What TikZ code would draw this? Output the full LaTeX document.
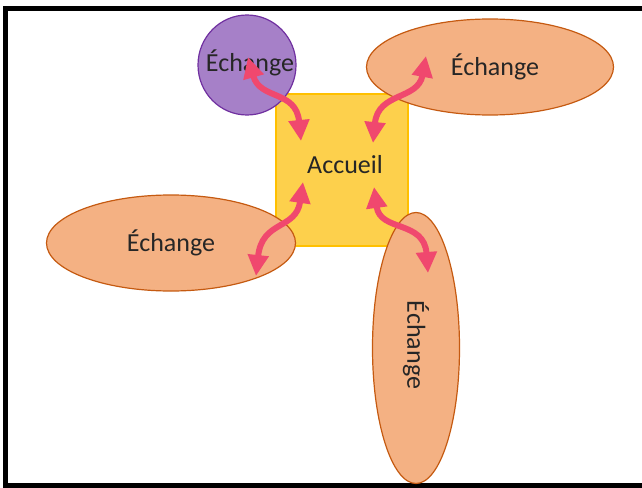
\documentclass[tikz,border=0pt]{standalone}
\usepackage{fontspec}
\setmainfont{Carlito}
\usetikzlibrary{arrows.meta,shapes.geometric}
\definecolor{peachfill}{RGB}{244,177,131}
\definecolor{peachline}{RGB}{197,90,17}
\definecolor{lilacfill}{RGB}{166,128,200}
\definecolor{lilacline}{RGB}{112,48,160}
\definecolor{goldfill}{RGB}{253,208,76}
\definecolor{goldline}{RGB}{255,192,0}
\definecolor{linkcolor}{RGB}{240,72,110}
\definecolor{txtcolor}{RGB}{38,38,38}
\tikzset{
  txtfont/.style={text=txtcolor, font=\fontsize{26}{31}\selectfont},
  echbox/.style={ellipse, draw=peachline, fill=peachfill, line width=1.2pt,
    inner sep=0pt, txtfont},
  echsmall/.style={ellipse, draw=lilacline, fill=lilacfill, line width=1.2pt,
    inner sep=0pt, txtfont},
  hubbox/.style={rectangle, draw=goldline, fill=goldfill, line width=1.2pt,
    inner sep=0pt, txtfont},
  linkln/.style={{Triangle[length=21pt,width=20pt]}-{Triangle[length=21pt,width=20pt]},
    line width=6pt, linkcolor},
  frameln/.style={line width=5pt, black},
}

\begin{document}
\begin{tikzpicture}[x=1pt, y=-1pt]
    \useasboundingbox (0,0) rectangle (642,487);
    % open frame (no right side)
    \draw[frameln] (645,9) -- (5.5,9) -- (5.5,485.5) -- (645,485.5);
    % central square
    \node[hubbox, minimum width=132pt, minimum height=152pt] (accueil)
      at (342,170) {};
    \node[txtfont] (accueiltxt) at (345,165) {Accueil};
    % the four exchanges
    \node[echsmall, minimum width=98pt, minimum height=100pt] (echA)
      at (247,65) {};
    \node[txtfont] (echAtxt) at (250,63) {Échange};
    \node[echbox, minimum width=247pt, minimum height=96pt] (echB)
      at (490,67) {\hspace*{10pt}Échange};
    \node[echbox, minimum width=249pt, minimum height=96pt] (echC)
      at (171,243) {Échange};
    \node[echbox, minimum width=87pt, minimum height=271pt] (echD)
      at (416,348) {};
    \node[txtfont, rotate=-90] (echDtxt) at (416,345) {Échange};
    % arrow ends
    \coordinate (a1) at (248,57);
    \coordinate (b1) at (301,141);
    \coordinate (a2) at (426,56);
    \coordinate (b2) at (373,143);
    \coordinate (a3) at (303,182);
    \coordinate (b3) at (256,276);
    \coordinate (a4) at (374,187);
    \coordinate (b4) at (428,273);
    % double arrows
    \draw[linkln] (a1) .. controls (260,100) and (296,90) .. (b1);
    \draw[linkln] (a2) .. controls (418,100) and (378,92) .. (b2);
    \draw[linkln] (a3) .. controls (296,230) and (262,220) .. (b3);
    \draw[linkln] (a4) .. controls (380,232) and (424,220) .. (b4);
\end{tikzpicture}
\end{document}
